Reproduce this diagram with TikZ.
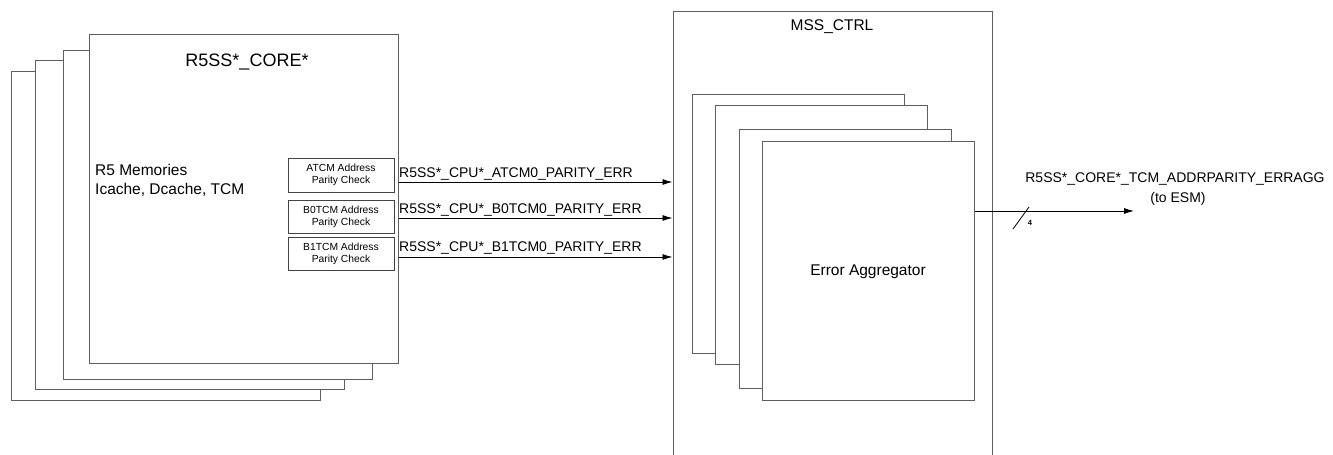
\documentclass[tikz,border=0pt]{standalone}
\usepackage{fontspec}
\setmainfont{Liberation Sans}
\usetikzlibrary{arrows.meta}
\definecolor{edge}{RGB}{95,95,95}
\begin{document}
\begin{tikzpicture}[x=1pt,y=-1pt,
  blk/.style={draw=edge,line width=1pt,fill=white,inner sep=0pt,minimum width=309pt,minimum height=329pt},
  agg/.style={draw=edge,line width=1pt,fill=white,inner sep=0pt,minimum width=212pt,minimum height=259pt},
  chk/.style={draw=edge!70!black,line width=1pt,fill=white,inner sep=0pt,minimum width=106pt,minimum height=33pt,align=center,font=\fontsize{10.3}{12}\selectfont},
  sig/.style={-{Latex[length=10pt,width=6pt]},line width=0.9pt,black},
  lbl/.style={font=\fontsize{14}{16}\selectfont,anchor=base west,inner sep=0pt}]
\clip (0,0) rectangle (1333,455);
\fill[white] (0,0) rectangle (1333,455);
% left core stack
\node[blk] (c4) at (166,235.5) {};
\node[blk] (c3) at (190,225) {};
\node[blk] (c2) at (217.5,214.5) {};
\node[blk] (core) at (243.5,198.5) {};
\node[font=\fontsize{18}{20}\selectfont,anchor=base,inner sep=0pt] (coret) at (247,66) {R5SS*\_CORE*};
\node[font=\fontsize{15.5}{18}\selectfont,anchor=base west,inner sep=0pt] (mem1) at (95,175) {R5 Memories};
\node[font=\fontsize{15.5}{18}\selectfont,anchor=base west,inner sep=0pt] (mem2) at (95,194) {Icache, Dcache, TCM};
\node[chk,minimum height=34pt] (atcm) at (341,175) {ATCM Address\\Parity Check};
\node[chk] (b0) at (341,216.5) {B0TCM Address\\Parity Check};
\node[chk] (b1) at (341,253.5) {B1TCM Address\\Parity Check};
% MSS_CTRL
\node[draw=edge,line width=1pt,inner sep=0pt,minimum width=319pt,minimum height=469pt] (mss) at (832.5,245.5) {};
\node[font=\fontsize{15.5}{17}\selectfont,anchor=base,inner sep=0pt] (msst) at (832,30.5) {MSS\_CTRL};
\node[agg] (a4) at (798,223.5) {};
\node[agg] (a3) at (821,234.5) {};
\node[agg] (a2) at (845,258.5) {};
\node[agg] (ea) at (868,270.5) {};
\node[font=\fontsize{15.5}{18}\selectfont,anchor=base,inner sep=0pt] (eat) at (868,275) {Error Aggregator};
% signals
\coordinate (y1) at (0,182);
\coordinate (y2) at (0,218);
\coordinate (y3) at (0,257);
\draw[sig] (core.east |- y1) -- (mss.west |- y1);
\draw[sig] (core.east |- y2) -- (mss.west |- y2);
\draw[sig] (core.east |- y3) -- (mss.west |- y3);
\node[lbl] (l1) at (399,177) {R5SS*\_CPU*\_ATCM0\_PARITY\_ERR};
\node[lbl] (l2) at (399,213) {R5SS*\_CPU*\_B0TCM0\_PARITY\_ERR};
\node[lbl] (l3) at (399,251) {R5SS*\_CPU*\_B1TCM0\_PARITY\_ERR};
% output
\coordinate (yo) at (0,211);
\coordinate (outend) at (1134,211);
\draw[sig] (ea.east |- yo) -- (outend);
\draw[line width=0.8pt] (1013,229) -- (1029,207);
\node[font=\bfseries\fontsize{7.5}{9}\selectfont,inner sep=0pt] (four) at (1030,222.5) {4};
\node[font=\fontsize{14}{16}\selectfont,anchor=base,inner sep=0pt] (outl1) at (1175,182) {R5SS*\_CORE*\_TCM\_ADDRPARITY\_ERRAGG};
\node[font=\fontsize{14}{16}\selectfont,anchor=base,inner sep=0pt] (outl2) at (1178,202) {(to ESM)};
\end{tikzpicture}
\end{document}
